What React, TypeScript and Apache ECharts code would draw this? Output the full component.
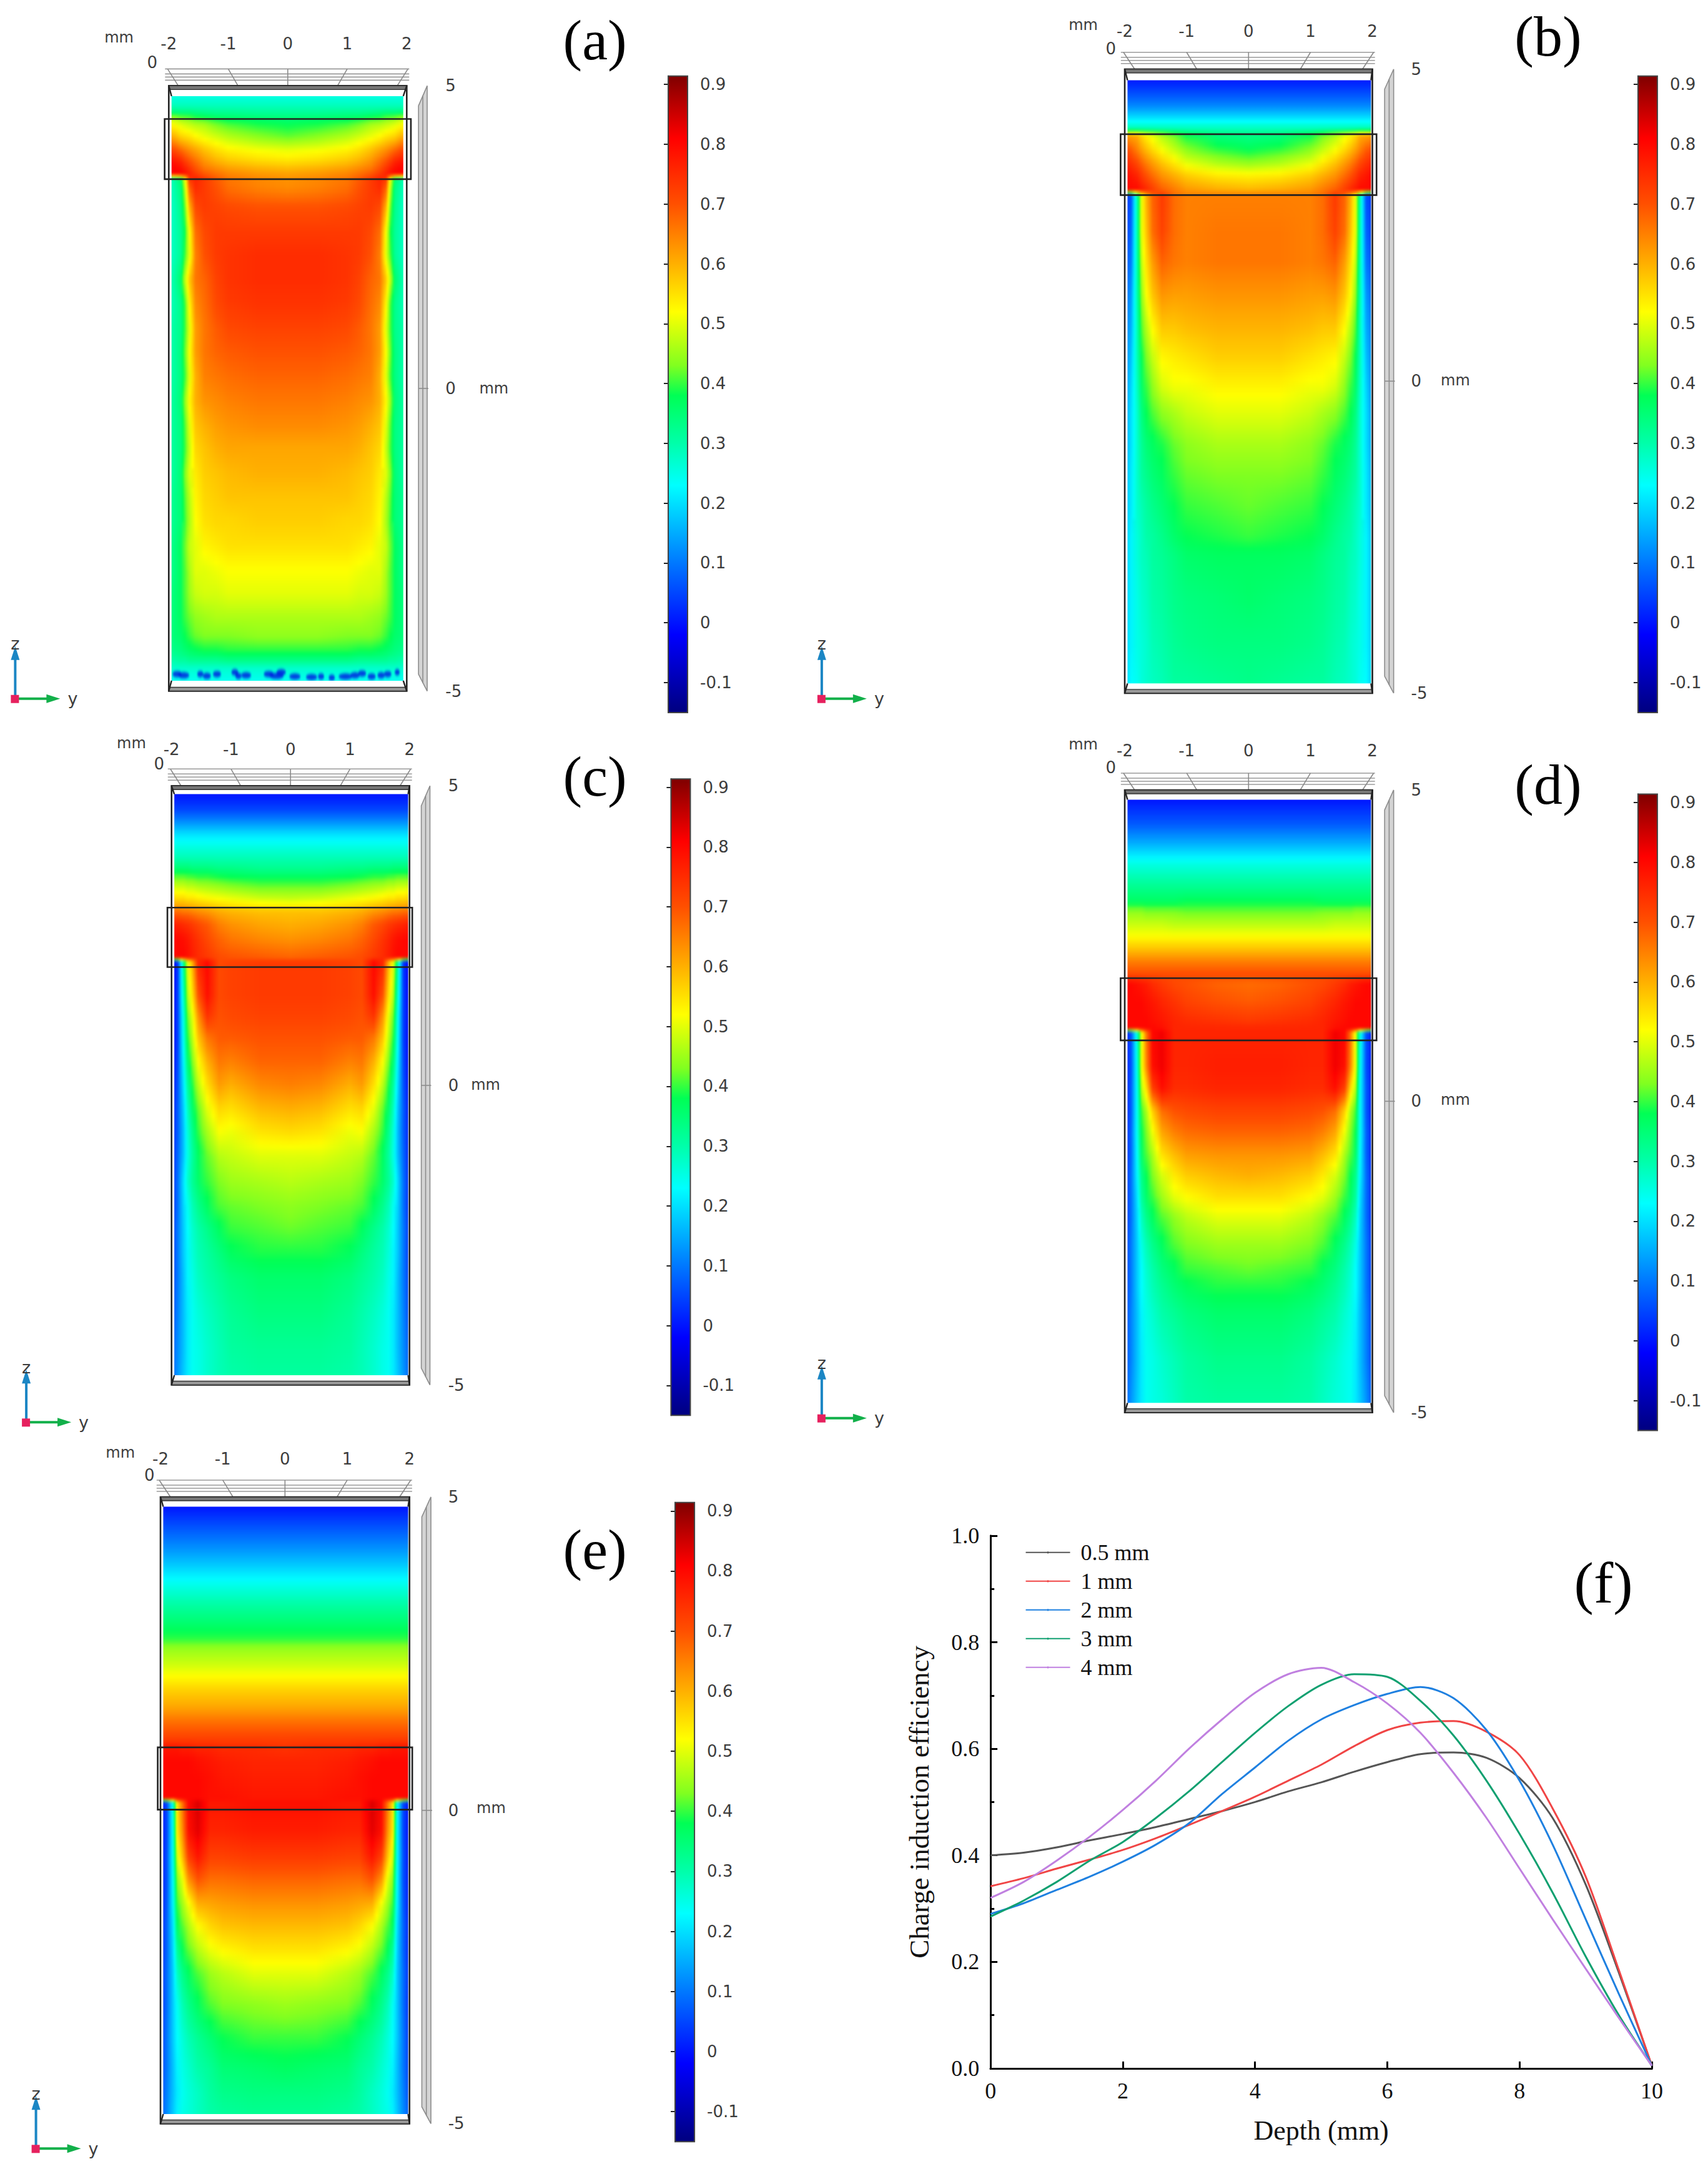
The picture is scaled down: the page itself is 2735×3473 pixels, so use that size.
import React, { useEffect, useRef } from "react";
import * as echarts from "echarts";

// ---------- curve data (panel f) ----------
const depth = [0,0.5,1,1.5,2,2.5,3,3.5,4,4.5,5,5.5,6,6.5,7,7.5,8,8.5,9,9.5,10];
const eff05 = [0.40,0.405,0.415,0.428,0.44,0.453,0.468,0.483,0.50,0.52,0.537,0.557,0.575,0.59,0.593,0.583,0.545,0.47,0.345,0.18,0.005];
const eff1 = [0.342,0.357,0.375,0.392,0.41,0.432,0.457,0.483,0.51,0.54,0.57,0.605,0.635,0.649,0.652,0.632,0.588,0.488,0.36,0.185,0.005];
const eff2 = [0.29,0.31,0.335,0.36,0.388,0.42,0.46,0.515,0.565,0.615,0.655,0.682,0.703,0.716,0.695,0.635,0.54,0.42,0.28,0.14,0.005];
const eff3 = [0.285,0.315,0.35,0.39,0.425,0.47,0.52,0.575,0.63,0.68,0.72,0.74,0.735,0.69,0.625,0.54,0.44,0.33,0.21,0.1,0.005];
const eff4 = [0.32,0.35,0.39,0.435,0.485,0.54,0.60,0.655,0.705,0.74,0.752,0.725,0.685,0.63,0.555,0.47,0.375,0.28,0.187,0.095,0.005];
const curveNames = ["0.5 mm","1 mm","2 mm","3 mm","4 mm"];
const curveValues = [eff05,eff1,eff2,eff3,eff4];
const curveColors = ["#555555","#f04545","#1f80e0","#10a070","#c080e0"];

// ---------- colour scale ----------
const scaleValues = [-0.15,-0.02,0.1,0.23,0.3,0.38,0.43,0.52,0.6,0.7,0.81,0.914];
const scaleColors = [[0,0,127],[0,0,255],[0,120,255],[0,255,255],[0,255,170],[0,255,85],[128,255,32],[255,255,0],[255,176,0],[255,80,0],[255,0,0],[127,0,0]];
const barTicks = [-0.1,0,0.1,0.2,0.3,0.4,0.5,0.6,0.7,0.8,0.9];

// ---------- potential field tables, in units of 0.01; columns are |y| (mm) ----------
const yCols = [0,0.5,1,1.2,1.4,1.55,1.65,1.73,1.8,1.9,2];
const u = (v:number) => [v,v,v,v,v,v,v,v,v,v,v];
const zA = [5.2,4.84,4.65,4.52,4.46,4.35,4.15,3.95,3.75,3.6,3.53,3.48,3.3,3,2.6,2.2,1.8,1.4,1,0.6,0.2,-0.2,-0.6,-1,-1.4,-1.8,-2.2,-2.6,-3,-3.4,-3.8,-4.1,-4.35,-4.5,-4.62,-4.85,-5.2];
const fieldA = [u(25),u(25),u(29),[33,33,34,34,35,36,37,37,37,38,38],[35,36,37,38,40,41,43,44,45,47,48],[38,39,41,43,46,47,48,49,50,52,53],[42,44,47,49,51,53,55,56,57,60,62],[50,51,53,55,58,61,63,65,67,70,72],[55,56,58,60,63,67,70,73,76,78,80],[60,61,63,65,67,71,75,78,80,81,81],[62,63,65,67,70,74,77,80,81,81,80],[63,64,66,69,73,76,74,50,36,31,27],[64,65,67,70,73,75,68,46,34,30,27],[70,70,71,72,73,71,60,42,33,29,27],[73,73,73,73,71,67,52,38,32,29,27],[75,75,74,73,70,65,50,40,32,29,27],[75,75,74,72,68,66,58,47,36,31,28],[74,74,73,71,67,64,53,40,33,30,28],[72,72,71,69,66,62,50,40,33,31,29],[70,70,69,68,66,62,52,42,34,31,29],[68,68,67,66,65,60,50,40,34,31,30],[66,66,65,64,63,60,53,44,35,32,30],[64,64,63,62,60,58,50,41,34,32,30],[61,61,61,60,58,56,48,40,34,32,30],[60,60,59,58,57,54,50,43,35,32,30],[58,58,58,57,56,53,47,41,35,33,31],[57,57,56,56,55,52,46,40,35,33,31],[55,55,55,54,53,50,48,42,37,34,32],[52,52,52,51,50,50,46,41,37,34,32],[50,50,50,49,49,48,45,41,37,35,33],[46,46,46,46,45,44,42,40,37,35,33],[44,44,43,43,43,42,40,38,36,35,33],[39,39,39,38,38,37,36,35,34,33,32],[33,33,33,32,32,32,32,31,31,30,30],u(27),u(24),u(24)];
const fleckY = [-1.86,-1.75,-1.47,-1.36,-1.19,-0.89,-0.83,-0.7,-0.32,-0.19,-0.11,0.12,0.4,0.56,0.74,0.97,1.13,1.25,1.41,1.57,1.68,1.84];
const fleckZ = [-4.72,-4.74,-4.72,-4.75,-4.72,-4.69,-4.75,-4.74,-4.72,-4.75,-4.69,-4.76,-4.77,-4.76,-4.78,-4.76,-4.74,-4.71,-4.76,-4.74,-4.72,-4.69];
const fleckW = [15,18,10,13,13,11,10,16,16,23,15,18,18,10,10,22,15,13,13,12,12,8];
const zB = [5.2,4.85,4.6,4.4,4.2,4.05,3.95,3.7,3.5,3.3,3.05,3,2.4,1.9,1.4,0.9,0.4,-0.1,-0.5,-1,-1.5,-2,-2.5,-2.8,-3.5,-4.2,-4.9,-5.2];
const fieldB = [u(0),u(0),u(6),u(12),u(21),u(29),[33,34,38,42,46,50,53,56,60,61,62],[38,40,44,48,52,56,59,62,65,69,71],[44,46,50,54,58,62,65,68,71,74,76],[53,54,57,60,63,67,70,73,76,78,80],[60,61,63,66,69,73,76,78,80,80,80],[65,65,65,67,73,68,60,50,30,6,3],[66,66,65,67,72,67,58,50,30,8,4],[66,66,65,66,68,62,55,47,30,10,6],[63,63,62,62,63,58,52,44,30,13,8],[60,60,59,58,58,53,47,41,29,15,10],[57,57,55,54,53,48,43,38,29,17,11],[53,53,51,51,49,44,40,36,28,19,12],[50,50,48,46,44,41,38,34,27,20,13],[46,46,44,42,39,37,35,32,27,20,14],[43,43,42,40,37,35,33,31,27,21,15],[42,41,40,38,35,33,31,29,27,21,16],[40,39,38,36,33,31,30,28,26,22,17],[37,37,36,34,32,31,29,28,26,22,17],[36,35,34,33,31,30,28,27,25,22,17],[34,34,33,32,30,29,27,26,25,22,18],[33,32,31,31,29,28,27,26,24,23,18],[33,32,31,31,29,28,27,26,24,23,18]];
const zC = [5.2,4.85,4.6,4.4,4.2,4,3.8,3.6,3.45,3.25,3.08,2.92,2.7,2.45,2.2,2.12,2.08,1.5,1.15,0.8,0.4,0,-0.4,-0.75,-1.15,-1.6,-2,-2.4,-2.8,-3.2,-3.8,-4.4,-4.9,-5.2];
const fieldC = [u(0),u(0),u(5),u(12),u(20),u(25),u(29),[33,33,34,34,35,35,35,36,36,36,36],[38,38,39,40,41,41,42,42,43,43,43],[44,44,46,47,48,49,50,50,51,51,52],[49,50,52,53,54,55,56,56,57,57,58],[58,58,59,60,62,63,64,65,65,66,66],[60,61,63,65,69,71,73,74,75,76,77],[63,64,66,68,71,74,76,78,79,80,80],[67,68,69,70,73,75,77,79,80,80,80],[68,69,70,71,73,75,77,79,80,80,80],[73,73,72,71,80,76,60,50,32,3,-3],[73,73,72,71,79,70,55,46,28,4,-3],[72,72,71,70,74,63,50,42,25,4,-2],[70,70,69,69,66,58,47,39,24,4,-2],[68,68,65,66,60,52,43,35,22,5,-2],[65,64,60,62,55,47,39,31,20,6,-1],[60,59,55,56,50,42,36,28,18,7,0],[56,55,51,52,46,40,33,26,17,7,1],[50,50,48,47,42,37,31,25,17,8,1],[47,46,45,43,40,36,32,27,20,9,2],[44,43,42,41,37,33,29,24,19,9,2],[42,41,40,37,33,30,27,23,18,10,3],[39,39,37,34,31,29,26,22,18,10,3],[36,36,34,32,30,28,25,22,17,10,4],[34,34,32,30,28,26,24,21,17,11,5],[32,32,31,29,27,25,24,21,17,12,7],[31,31,30,29,27,25,24,21,18,13,8],[31,31,30,29,27,25,24,21,18,13,8]];
const zD = [5.2,4.85,4.45,4.15,3.82,3.42,3.2,3.05,2.85,2.65,2.45,2.25,2.03,1.9,1.6,1.3,1.16,1.12,0.55,0.2,-0.15,-0.5,-0.85,-1.2,-1.55,-1.87,-2.3,-2.7,-3,-3.4,-4.15,-4.9,-5.2];
const fieldD = [u(0),u(0),u(7),u(15),u(25),u(33),[38,38,38,37,37,37,37,37,37,37,37],[42,42,42,43,43,43,43,44,44,44,44],[47,47,47,47,48,48,48,48,48,48,48],u(52),u(58),u(65),u(71),[67,68,70,71,73,75,77,78,79,80,80],[69,70,72,74,76,78,79,80,80,80,80],[73,74,75,76,78,79,80,80,80,80,80],[76,76,76,76,79,80,80,80,80,80,80],[76,76,76,76,82,80,66,50,26,6,0],[77,77,76,76,82,79,64,50,25,6,0],[76,76,75,75,79,72,55,46,24,7,0],[72,72,71,70,67,57,46,40,24,7,0],[68,68,67,65,61,51,43,38,24,8,1],[63,63,62,59,55,46,41,36,23,8,1],[60,59,57,54,49,43,38,33,22,9,2],[55,55,52,50,45,40,36,31,20,9,2],[50,50,47,44,41,37,33,28,19,9,2],[45,45,43,41,37,33,29,25,18,10,3],[42,41,40,37,34,30,27,23,18,10,3],[39,39,37,35,32,29,26,23,18,10,4],[36,36,34,32,30,27,25,22,17,11,4],[33,33,31,29,27,25,24,21,17,11,5],[31,31,30,28,26,25,24,21,18,13,7],[31,31,30,28,26,25,24,21,18,13,7]];
const zE = [5.2,4.85,4.48,4.1,3.58,3.2,2.85,2.72,2.6,2.3,2.1,1.9,1.65,1.4,1.15,1,0.8,0.5,0.18,0.14,-0.35,-0.75,-1.1,-1.5,-1.85,-2.2,-2.6,-3.1,-3.65,-4.1,-4.5,-4.9,-5.2];
const fieldE = [u(0),u(0),u(7),u(14),u(25),u(32),u(38),u(40),u(44),u(49),u(53),u(57),u(61),u(67),u(72),[74,75,75,76,76,77,77,78,78,78,78],[76,76,77,78,79,80,80,80,80,80,80],[77,77,78,79,80,80,80,80,80,80,80],[78,78,79,79,80,80,80,80,80,80,80],[79,79,78,78,84,80,66,55,25,5,-1],[77,77,76,76,83,79,63,54,24,5,-1],[73,73,72,72,78,72,58,49,24,6,-1],[68,68,67,67,70,63,50,44,23,6,0],[63,63,62,61,60,51,45,40,22,7,0],[59,59,58,56,52,46,41,37,20,8,1],[55,55,53,51,47,42,38,32,19,8,1],[50,50,47,45,41,37,33,28,18,9,2],[45,44,43,41,37,33,29,24,18,9,2],[40,40,38,35,32,29,26,23,18,10,3],[37,36,35,32,30,27,25,22,17,10,4],[34,34,33,31,28,26,24,21,17,11,5],[32,32,31,30,28,26,25,22,18,12,7],[32,32,31,30,28,26,25,22,18,12,7]];

// ---------- layout, in units of the reduced view of the figure ----------
const S = 2.2153;
const W = 2735, H = 3473;
const panels = [
  { id:"(a)", z:zA, f:fieldA, frame:[122,294,62,499.5], field:[124,291.5,69.5,492], band:[119,297,86,129.5], bar:[483,497,55,515], lab:[430,29], tri:[11,505], mm:[86,27], zero:[110,45], zmm:[357,281] },
  { id:"(b)", z:zB, f:fieldB, frame:[813,992,50,501], field:[815,991,58,494], band:[810,995,97,141], bar:[1184,1198,55,515], lab:[1119,26], tri:[594,505], mm:[783,18], zero:[803,35], zmm:[1052,275] },
  { id:"(c)", z:zC, f:fieldC, frame:[124,296,568,1001], field:[126,295,574,994], band:[121,298,656,699], bar:[485,499,563,1023], lab:[430,561], tri:[19,1028], mm:[95,537], zero:[115,552], zmm:[351,784] },
  { id:"(d)", z:zD, f:fieldD, frame:[813,992,571,1021], field:[815,991,578,1014], band:[810,995,707,752], bar:[1184,1198,574,1034], lab:[1119,567], tri:[594,1025], mm:[783,538], zero:[803,555], zmm:[1052,795] },
  { id:"(e)", z:zE, f:fieldE, frame:[116,296,1082,1535], field:[118,295,1089,1528], band:[114,298,1263,1308], bar:[488,502,1086,1548], lab:[430,1120], tri:[26,1553], mm:[87,1050], zero:[108,1066], zmm:[355,1307] },
];
const plotF = [716,1194,1110,1495];
const inkText = "#3c3c3c";
const sansFont = '"DejaVu Sans"';
const serifFont = '"Liberation Serif"';

function colorOf(v:number){
  const n = scaleValues.length;
  if (v <= scaleValues[0]) return scaleColors[0];
  if (v >= scaleValues[n-1]) return scaleColors[n-1];
  let i = 0;
  while (v > scaleValues[i+1]) i++;
  const k = (v-scaleValues[i])/(scaleValues[i+1]-scaleValues[i]);
  return scaleColors[i].map((c,j)=>Math.round(c+(scaleColors[i+1][j]-c)*k));
}
const css = (c:number[]) => `rgb(${c[0]},${c[1]},${c[2]})`;

// horizontal shading of a table row: the colour ramp is followed between the read values
function rowStops(vals:number[]){
  const ys = [...yCols.slice(1).reverse().map(y=>-y), ...yCols];
  const vs = [...vals.slice(1).reverse(), ...vals];
  const span = 4.6;
  const stops:any[] = [];
  for (let i=0;i<ys.length;i++){
    stops.push({offset:(ys[i]+2.3)/span,color:css(colorOf(vs[i]/100))});
    if (i<ys.length-1){
      const n = Math.min(8,Math.ceil(Math.abs(vs[i+1]-vs[i])/5));
      for (let j=1;j<n;j++){
        const k=j/n;
        stops.push({offset:(ys[i]+(ys[i+1]-ys[i])*k+2.3)/span,color:css(colorOf((vs[i]+(vs[i+1]-vs[i])*k)/100))});
      }
    }
  }
  return stops;
}

function gridOf(r:number[]){
  return { left:r[0]*S, top:r[2]*S, width:(r[1]-r[0])*S, height:(r[3]-r[2])*S };
}

function fieldOption(){
  const grid:any[]=[], xAxis:any[]=[], yAxis:any[]=[], series:any[]=[];
  panels.forEach((p,i)=>{
    grid.push(gridOf(p.frame));
    xAxis.push({type:"value",gridIndex:i,min:-2,max:2,show:false});
    yAxis.push({type:"value",gridIndex:i,min:-5,max:5,show:false});
    series.push({
      type:"custom",xAxisIndex:i,yAxisIndex:i,clip:false,silent:true,
      data:p.z.map((z,j)=>[z,p.f[j][0]]),
      renderItem:(params:any,api:any)=>{
        const j = params.dataIndex;
        if (j>=p.z.length-1) return {type:"group",children:[]};
        const a = api.coord([-2.3,p.z[j]]);
        const b = api.coord([2.3,p.z[j+1]]);
        const h = b[1]-a[1];
        const n = Math.max(1,Math.ceil(h/8));
        const children:any[]=[];
        for (let s=0;s<n;s++){
          const k=(s+0.5)/n;
          const vals=p.f[j].map((v,c)=>v+(p.f[j+1][c]-v)*k);
          children.push({type:"rect",shape:{x:a[0],y:a[1]+h*s/n,width:b[0]-a[0],height:h/n+1},
            style:{fill:new echarts.graphic.LinearGradient(0,0,1,0,rowStops(vals))}});
        }
        return {type:"group",children};
      },
    });
  });
  series.push({type:"scatter",xAxisIndex:0,yAxisIndex:0,silent:true,clip:false,z:5,
    data:fleckY.map((y,j)=>({value:[y,fleckZ[j]],symbolSize:[fleckW[j],10]})),itemStyle:{color:"#0010e0"}});
  return {animation:false,grid,xAxis,yAxis,series};
}

function txt(x:number,y:number,text:string,font:string,size:number,fill:string,align="center"){
  return {type:"text",x,y,silent:true,style:{text,fontFamily:font,fontSize:size,fill,align,verticalAlign:"middle",textAlign:align,textVerticalAlign:"middle"}};
}
function seg(x1:number,y1:number,x2:number,y2:number,stroke:string,lineWidth:number){
  return {type:"line",silent:true,shape:{x1,y1,x2,y2},style:{stroke,lineWidth}};
}

function decorations(){
  const g:any[]=[];
  panels.forEach(p=>{
    const [x0,x1,y0,y1]=p.frame.map(v=>v*S);
    const [fx0,fx1,fy0,fy1]=p.field.map(v=>v*S);
    const [bx0,bx1,by0,by1]=p.band.map(v=>v*S);
    const w=x1-x0, k=w/384;
    // 3D grid above the box
    [-27,-19,-14,-9].forEach(d=>g.push(seg(x0-6*k,y0+d,x1+4*k,y0+d,"#9a9a9a",1.6)));
    [[-0.505,-0.45],[-0.25,-0.2],[0,0],[0.25,0.2],[0.505,0.45]].forEach(([a,b])=>{
      const c=(x0+x1)/2;
      g.push(seg(c+a*w,y0-27,c+b*w,y0+6,"#8a8a8a",1.6));
    });
    // right side wall with the z axis
    const wl=x1+19*k, wr=x1+33*k;
    g.push({type:"polygon",silent:true,shape:{points:[[wl,y0+32],[wr,y0],[wr,y1],[wl,y1-27]]},style:{fill:"#d4d4d4",stroke:"#8c8c8c",lineWidth:1.6}});
    g.push(seg((wl+wr)/2,y0+16,(wl+wr)/2,y1-13,"#8c8c8c",1.6));
    g.push(seg(wl,(y0+y1)/2,wr+2,(y0+y1)/2,"#8c8c8c",1.6));
    // box
    g.push({type:"rect",silent:true,shape:{x:x0,y:y0,width:w,height:y1-y0},style:{fill:"none",stroke:"#222",lineWidth:2.6}});
    g.push({type:"rect",silent:true,shape:{x:x0,y:y0,width:w,height:6},style:{fill:"#777",stroke:"#333",lineWidth:1.4}});
    g.push({type:"rect",silent:true,shape:{x:x0,y:y1-6,width:w,height:6},style:{fill:"#999",stroke:"#333",lineWidth:1.4}});
    g.push(seg(x0,y0,fx0,fy0,"#222",2.4),seg(x1,y0,fx1,fy0,"#222",2.4),seg(x0,y1,fx0,fy1,"#222",2.4),seg(x1,y1,fx1,fy1,"#222",2.4));
    // electrode ring
    g.push({type:"rect",silent:true,shape:{x:bx0,y:by0,width:bx1-bx0,height:by1-by0},style:{fill:"none",stroke:"#222",lineWidth:2.6}});
    // coordinate triad
    const [tx,ty]=[p.tri[0]*S,p.tri[1]*S];
    g.push(seg(tx,ty,tx,ty-64,"#1b86c4",4));
    g.push({type:"polygon",silent:true,shape:{points:[[tx-7,ty-62],[tx+7,ty-62],[tx,ty-84]]},style:{fill:"#1b86c4"}});
    g.push(seg(tx,ty,tx+52,ty,"#12b04a",4));
    g.push({type:"polygon",silent:true,shape:{points:[[tx+50,ty-7],[tx+50,ty+7],[tx+72,ty]]},style:{fill:"#12b04a"}});
    g.push({type:"rect",silent:true,shape:{x:tx-7,y:ty-6,width:13,height:13},style:{fill:"#e6215e"}});
    g.push(txt(tx,ty-88,"z",sansFont,27,inkText));
    g.push(txt(tx+92,ty,"y",sansFont,27,inkText));
    // units and labels
    g.push(txt(p.mm[0]*S,p.mm[1]*S,"mm",sansFont,24,inkText));
    g.push(txt(p.zero[0]*S,p.zero[1]*S,"0",sansFont,26,inkText));
    g.push(txt(p.zmm[0]*S,p.zmm[1]*S,"mm",sansFont,24,inkText));
    g.push(txt(p.lab[0]*S,p.lab[1]*S,p.id,serifFont,92,"#000"));
  });
  g.push(txt(1159*S,1144*S,"(f)",serifFont,94,"#000"));
  return g;
}

function mainOption(){
  const grid:any[]=[], xAxis:any[]=[], yAxis:any[]=[], series:any[]=[];
  panels.forEach((p,i)=>{
    grid.push(gridOf(p.frame));
    xAxis.push({type:"value",gridIndex:i,position:"top",min:-2,max:2,interval:1,axisLine:{show:false},axisTick:{show:false},splitLine:{show:false},
      axisLabel:{margin:(p.frame[2]-(p.mm[1]+5))*S-12,color:inkText,fontFamily:sansFont,fontSize:26}});
    yAxis.push({type:"value",gridIndex:i,position:"right",min:-5,max:5,interval:5,axisLine:{show:false},axisTick:{show:false},splitLine:{show:false},
      axisLabel:{margin:62,color:inkText,fontFamily:sansFont,fontSize:26}});
  });
  const nP = panels.length;
  panels.forEach((p,i)=>{
    const gi = nP+i;
    const r = p.bar;
    grid.push(gridOf(r));
    xAxis.push({type:"value",gridIndex:gi,min:0,max:1,show:false});
    yAxis.push({type:"value",gridIndex:gi,position:"right",min:-0.15,max:0.914,
      axisLine:{show:true,lineStyle:{color:"#444",width:2}},splitLine:{show:false},
      axisTick:{show:true,inside:true,length:7,customValues:barTicks,lineStyle:{color:"#222",width:2}},
      axisLabel:{margin:20,customValues:barTicks,formatter:(v:number)=>String(v),color:inkText,fontFamily:sansFont,fontSize:26}});
    series.push({type:"custom",xAxisIndex:gi,yAxisIndex:gi,silent:true,data:[[0,1]],
      renderItem:(_:any,api:any)=>{
        const a=api.coord([0,0.914]), b=api.coord([1,-0.15]);
        const stops=scaleValues.map((v,j)=>({offset:(0.914-v)/1.064,color:css(scaleColors[j])})).reverse();
        return {type:"rect",shape:{x:a[0],y:a[1],width:b[0]-a[0],height:b[1]-a[1]},
          style:{fill:new echarts.graphic.LinearGradient(0,0,0,1,stops),stroke:"#444",lineWidth:2}};
      }});
  });
  const gf = nP*2;
  grid.push(gridOf(plotF));
  const axisBlack = {lineStyle:{color:"#000",width:3}};
  xAxis.push({type:"value",gridIndex:gf,min:0,max:10,interval:2,name:"Depth (mm)",nameLocation:"middle",nameGap:78,
    nameTextStyle:{fontFamily:serifFont,fontSize:44,color:"#111"},axisLine:{show:true,...axisBlack},splitLine:{show:false},
    axisTick:{inside:true,length:11,...axisBlack},axisLabel:{margin:18,fontFamily:serifFont,fontSize:36,color:"#111"}});
  xAxis.push({type:"value",gridIndex:gf,position:"top",min:0,max:10,axisLine:{show:true,...axisBlack},axisTick:{show:false},axisLabel:{show:false},splitLine:{show:false}});
  yAxis.push({type:"value",gridIndex:gf,min:0,max:1,interval:0.2,name:"Charge induction efficiency",nameLocation:"middle",nameGap:92,
    nameTextStyle:{fontFamily:serifFont,fontSize:45,color:"#111"},axisLine:{show:true,...axisBlack},splitLine:{show:false},
    axisTick:{inside:true,length:11,...axisBlack},minorTick:{show:true,splitNumber:2,length:6,lineStyle:{color:"#000",width:3}},minorSplitLine:{show:false},
    axisLabel:{margin:18,fontFamily:serifFont,fontSize:36,color:"#111",formatter:(v:number)=>v.toFixed(1)}});
  yAxis.push({type:"value",gridIndex:gf,position:"right",min:0,max:1,axisLine:{show:true,...axisBlack},axisTick:{show:false},axisLabel:{show:false},splitLine:{show:false}});
  const xi = xAxis.length-2, yi = yAxis.length-2;
  curveNames.forEach((name,i)=>{
    series.push({type:"line",name,xAxisIndex:xi,yAxisIndex:yi,smooth:0.3,showSymbol:false,symbol:"none",clip:false,
      data:depth.map((d,j)=>[d,curveValues[i][j]]),lineStyle:{color:curveColors[i],width:3},itemStyle:{color:curveColors[i]},emphasis:{disabled:true}});
  });
  return {animation:false,grid,xAxis,yAxis,series,graphic:{elements:decorations()},
    legend:{data:curveNames,orient:"vertical",left:741*S,top:1123*S-20,itemWidth:71,itemHeight:4,itemGap:10,padding:0,
      textStyle:{fontFamily:serifFont,fontSize:36,color:"#111",padding:[0,0,0,12]},selectedMode:false}};
}

function clipPathOf(){
  const d = panels.map(p=>{
    const [a,b,c,e]=p.field.map(v=>v*S);
    return `M${a} ${c}L${b} ${c}L${b} ${e}L${a} ${e}Z`;
  }).join("");
  return `path('${d}')`;
}

export default function App(){
  const fieldRef = useRef<HTMLDivElement>(null);
  const mainRef = useRef<HTMLDivElement>(null);
  useEffect(()=>{
    document.body.style.margin="0";
    const f = echarts.init(fieldRef.current!,undefined,{renderer:"svg"});
    const m = echarts.init(mainRef.current!,undefined,{renderer:"svg"});
    f.setOption(fieldOption());
    m.setOption(mainOption());
    return ()=>{f.dispose();m.dispose();};
  },[]);
  return (
    <div style={{position:"relative",width:W,height:H,background:"#fff",overflow:"hidden"}}>
      <svg width="0" height="0" style={{position:"absolute"}}>
        <filter id="vblur" x="0" y="0" width="100%" height="100%" colorInterpolationFilters="sRGB">
          <feGaussianBlur stdDeviation="0.8 2.5"/>
        </filter>
      </svg>
      <div style={{position:"absolute",left:0,top:0,width:W,height:H,clipPath:clipPathOf()}}>
        <div style={{width:W,height:H,filter:"url(#vblur)"}}>
          <div ref={fieldRef} style={{width:W,height:H}}/>
        </div>
      </div>
      <div ref={mainRef} style={{position:"absolute",left:0,top:0,width:W,height:H}}/>
    </div>
  );
}
